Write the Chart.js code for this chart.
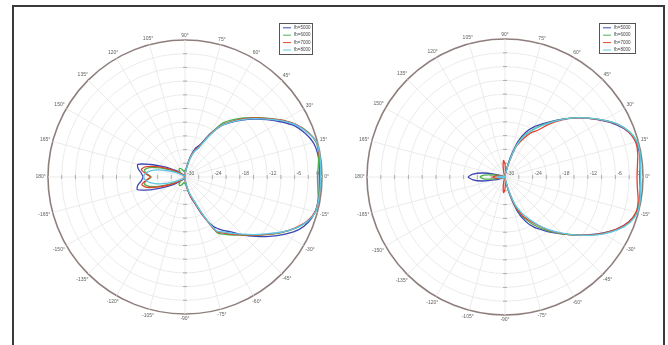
<!DOCTYPE html>
<html>
<head>
<meta charset="utf-8">
<title>Polar response</title>
<script src="https://cdn.jsdelivr.net/npm/chart.js@4.4.1/dist/chart.umd.min.js"></script>
<style>
  html, body { margin: 0; padding: 0; background: #fff; }
  #stage { position: relative; width: 668px; height: 345px; overflow: hidden; background: #fff; }
  .pane { position: absolute; top: 0; width: 334px; height: 345px; }
  #paneLeft { left: 0; }
  #paneRight { left: 334px; }
  #frame { position: absolute; left: 12px; top: 5px; width: 653px; height: 400px;
           border: 2px solid #3a3a3a; box-sizing: border-box; pointer-events: none; }
</style>
</head>
<body>
<div id="stage">
  <div class="pane" id="paneLeft"><canvas id="chartLeft"></canvas></div>
  <div class="pane" id="paneRight"><canvas id="chartRight"></canvas></div>
  <div id="frame"></div>
</div>
<script>
// Angles (degrees) in the order the radial scale walks them: clockwise from 0°.
const angleDeg = [0, -5, -10, -15, -20, -25, -30, -35, -40, -45, -50, -55, -60, -65, -70, -75, -80, -85,
  -90, -95, -100, -105, -110, -115, -120, -125, -130, -135, -140, -145, -150, -155, -160, -165, -170, -175,
  180, 175, 170, 165, 160, 155, 150, 145, 140, 135, 130, 125, 120, 115, 110, 105, 100, 95,
  90, 85, 80, 75, 70, 65, 60, 55, 50, 45, 40, 35, 30, 25, 20, 15, 10, 5];

const seriesNames = ['fb=5000', 'fb=6000', 'fb=7000', 'fb=8000'];
const seriesColors = ['#3d46b4', '#4cb24c', '#e2412f', '#5cc9e6'];

// Radial scale (dB) and its printed tick values
const dbMin = -30;
const dbMax = 0;
const dbStep = 3;
const radialTickValues = [-30, -24, -18, -12, -6, 0];

// Left pattern, level in dB per angle
const left5000 = [-0.6, -0.5, -0.4, -0.5, -1.2, -2.6, -4.9, -7.3, -9.8, -12.0, -14.3, -15.8, -17.5, -20.6, -24.0, -25.8, -27.6, -29.0,
  -29.6, -29.7, -29.8, -29.8, -29.8, -29.8, -29.7, -29.6, -29.4, -29.0, -28.4, -27.5, -26.2, -24.4, -21.8, -19.2, -19.5, -20.4,
  -20.8, -20.4, -19.6, -19.3, -22.0, -24.5, -26.3, -27.5, -28.4, -29.0, -29.4, -29.6, -29.7, -29.8, -29.8, -29.8, -29.8, -29.7,
  -29.6, -29.0, -27.6, -25.3, -23.3, -22.2, -19.2, -16.4, -14.4, -12.4, -10.3, -8.1, -5.8, -3.5, -2.0, -0.9, -0.5, -0.5];
const left6000 = [-1.0, -0.8, -0.4, -0.4, -1.5, -3.4, -5.6, -8.0, -10.1, -12.0, -13.4, -14.7, -15.9, -21.0, -24.6, -26.2, -28.0, -28.6,
  -28.5, -28.6, -28.8, -28.6, -28.3, -28.0, -27.8, -27.8, -28.0, -28.5, -28.8, -28.6, -27.8, -26.3, -24.2, -22.0, -21.0, -21.6,
  -22.6, -21.6, -21.0, -22.0, -24.2, -26.3, -27.8, -28.6, -28.8, -28.5, -28.0, -27.8, -27.8, -28.0, -28.3, -28.6, -28.8, -28.6,
  -28.5, -28.6, -27.8, -25.8, -24.0, -22.8, -19.5, -15.6, -13.6, -11.7, -9.8, -7.6, -5.2, -3.0, -1.3, -0.3, -0.3, -0.7];
const left7000 = [-0.4, -0.3, -0.3, -0.5, -1.6, -3.5, -5.7, -8.1, -10.2, -12.1, -13.6, -15.0, -16.2, -20.8, -24.3, -26.0, -27.8, -29.0,
  -29.4, -29.6, -29.8, -29.8, -29.8, -29.8, -29.8, -29.8, -29.8, -29.6, -29.1, -28.3, -27.1, -25.6, -23.5, -21.3, -20.4, -21.4,
  -22.4, -21.3, -20.3, -21.2, -23.4, -25.5, -27.0, -28.2, -29.0, -29.5, -29.8, -29.8, -29.8, -29.8, -29.8, -29.8, -29.8, -29.6,
  -29.3, -28.9, -27.7, -25.6, -23.8, -22.6, -19.6, -16.2, -14.1, -12.0, -9.9, -7.7, -5.2, -3.0, -1.4, -0.2, -0.2, -0.3];
const left8000 = [-0.3, -0.3, -0.3, -0.4, -1.5, -3.4, -5.8, -8.3, -10.4, -12.3, -13.9, -15.3, -16.5, -21.2, -24.8, -26.4, -28.2, -29.3,
  -29.7, -29.7, -29.7, -29.7, -29.7, -29.7, -29.7, -29.7, -29.7, -29.7, -29.7, -29.3, -28.7, -27.7, -26.1, -24.2, -22.5, -21.4,
  -20.9, -21.3, -22.3, -24.0, -26.0, -27.6, -28.6, -29.2, -29.6, -29.7, -29.7, -29.7, -29.7, -29.7, -29.7, -29.7, -29.7, -29.7,
  -29.7, -29.2, -28.0, -25.9, -24.1, -23.0, -19.9, -16.3, -14.3, -12.2, -10.1, -7.9, -5.4, -3.1, -1.5, -0.2, -0.1, -0.2];

// Right pattern, level in dB per angle
const right5000 = [-0.7, -0.5, -0.3, -0.4, -1.4, -3.2, -5.6, -8.1, -10.4, -12.5, -14.3, -16.0, -17.4, -19.3, -22.0, -26.0, -28.8, -29.5,
  -29.7, -29.8, -29.8, -29.8, -29.8, -29.8, -29.8, -29.8, -29.8, -29.8, -29.8, -29.8, -29.8, -29.8, -29.2, -27.5, -25.0, -23.0,
  -22.0, -23.0, -25.0, -27.5, -29.2, -29.8, -29.8, -29.8, -29.8, -29.8, -29.8, -29.8, -29.8, -29.8, -29.8, -29.8, -29.8, -29.8,
  -29.7, -29.5, -28.6, -25.8, -21.8, -19.2, -17.4, -15.9, -14.2, -12.2, -10.0, -7.8, -5.5, -3.2, -1.4, -0.5, -0.3, -0.5];
const right6000 = [-0.6, -0.4, -0.3, -0.3, -1.2, -3.0, -5.4, -7.9, -10.3, -12.5, -14.5, -16.4, -18.2, -20.2, -22.8, -26.8, -29.1, -29.6,
  -29.8, -29.8, -29.8, -29.8, -29.8, -29.8, -29.8, -29.8, -29.8, -29.8, -29.8, -29.8, -29.8, -29.8, -29.8, -29.1, -27.6, -25.4,
  -24.6, -25.4, -27.5, -29.0, -29.8, -29.8, -29.8, -29.8, -29.8, -29.8, -29.8, -29.8, -29.8, -29.8, -29.8, -29.8, -29.8, -29.8,
  -29.7, -29.6, -29.0, -26.6, -22.6, -20.0, -18.2, -16.3, -14.4, -12.2, -9.9, -7.7, -5.3, -2.9, -1.2, -0.3, -0.2, -0.5];
const right7000 = [-1.3, -1.1, -0.6, -0.5, -1.4, -3.2, -5.5, -8.0, -10.4, -12.7, -14.8, -17.0, -18.9, -20.6, -23.0, -26.8, -28.9, -28.8,
  -27.4, -26.6, -27.8, -29.0, -29.8, -29.8, -29.8, -29.8, -29.8, -29.8, -29.8, -29.8, -29.8, -29.8, -29.8, -29.5, -28.7, -27.8,
  -27.3, -27.8, -28.6, -29.5, -29.8, -29.8, -29.8, -29.8, -29.8, -29.8, -29.8, -29.8, -29.8, -29.8, -29.8, -29.0, -27.7, -26.4,
  -27.2, -28.7, -28.9, -26.8, -23.0, -21.0, -19.0, -17.6, -14.9, -12.4, -10.1, -7.8, -5.4, -3.0, -1.4, -0.6, -0.7, -1.1];
const right8000 = [-0.5, -0.4, -0.2, -0.2, -1.1, -2.9, -5.3, -7.9, -10.4, -12.8, -15.0, -17.2, -19.4, -21.4, -23.6, -27.2, -29.2, -29.6,
  -29.8, -29.8, -29.8, -29.8, -29.8, -29.8, -29.8, -29.8, -29.8, -29.8, -29.8, -29.8, -29.8, -29.8, -29.8, -29.8, -29.3, -28.6,
  -28.3, -28.6, -29.3, -29.8, -29.8, -29.8, -29.8, -29.8, -29.8, -29.8, -29.8, -29.8, -29.8, -29.8, -29.8, -29.8, -29.8, -29.8,
  -29.7, -29.6, -29.1, -26.8, -22.8, -20.2, -18.4, -16.5, -14.5, -12.3, -10.0, -7.7, -5.3, -2.9, -1.2, -0.3, -0.2, -0.4];

const FONT = '"Liberation Sans", Arial, sans-serif';

// Axis decorations: angle labels, dB labels, tick crosses on the main spokes, legend box
const polarDecor = {
  id: 'polarDecor',
  beforeDatasetsDraw(chart) {
    const r = chart.scales.r;
    const ctx = chart.ctx;
    const R = r.drawingArea;
    ctx.save();

    // small tick marks where each grid circle crosses the four main spokes
    ctx.strokeStyle = '#9c9c9c';
    ctx.lineWidth = 0.8;
    r.ticks.forEach(t => {
      const d = r.getDistanceFromCenterForValue(t.value);
      if (d <= 0 || t.value === dbMax) return;
      [0, 90, 180, -90].forEach(deg => {
        const idx = angleDeg.indexOf(deg);
        const p = r.getPointPosition(idx, d);
        ctx.beginPath();
        if (deg === 0 || deg === 180) {
          ctx.moveTo(p.x, p.y - 2); ctx.lineTo(p.x, p.y + 2);
        } else {
          ctx.moveTo(p.x - 2, p.y); ctx.lineTo(p.x + 2, p.y);
        }
        ctx.stroke();
      });
    });

    // angle labels every 15°
    ctx.font = '5px ' + FONT;
    ctx.fillStyle = '#606060';
    ctx.textAlign = 'center';
    ctx.textBaseline = 'middle';
    angleDeg.forEach((deg, i) => {
      if (deg % 15 !== 0) return;
      const text = deg + '\u00B0';
      const w = ctx.measureText(text).width;
      const a = deg * Math.PI / 180;
      const ext = 2.2 + Math.abs(Math.cos(a)) * w / 2 + Math.abs(Math.sin(a)) * 2.4;
      const p = r.getPointPosition(i, R + ext);
      ctx.fillText(text, p.x, p.y);
    });

    // dB labels along the 0° spoke
    radialTickValues.forEach(v => {
      const d = r.getDistanceFromCenterForValue(v);
      const p = r.getPointPosition(0, d);
      if (v === dbMax) {
        ctx.textAlign = 'right';
        ctx.fillText(String(v), p.x - 3, p.y - 3.5);
      } else {
        ctx.textAlign = 'left';
        ctx.fillText(String(v), p.x + 2, p.y - 3.5);
      }
    });
    ctx.restore();
  },
  afterDraw(chart, args, opts) {
    const box = opts.legendBox;
    if (!box) return;
    const ctx = chart.ctx;
    ctx.save();
    ctx.fillStyle = '#ffffff';
    ctx.fillRect(box.x, box.y, box.w, box.h);
    ctx.strokeStyle = '#555555';
    ctx.lineWidth = 1;
    ctx.strokeRect(box.x + 0.5, box.y + 0.5, box.w - 1, box.h - 1);
    ctx.font = '4.5px ' + FONT;
    ctx.textAlign = 'left';
    ctx.textBaseline = 'middle';
    chart.data.datasets.forEach((ds, k) => {
      const y = box.y + 4.8 + k * 7.4;
      ctx.strokeStyle = ds.borderColor;
      ctx.lineWidth = 1;
      ctx.beginPath();
      ctx.moveTo(box.x + 4, y);
      ctx.lineTo(box.x + 12, y);
      ctx.stroke();
      ctx.fillStyle = '#444444';
      ctx.fillText(ds.label, box.x + 15, y);
    });
    ctx.restore();
  }
};

function makePolar(canvasId, seriesList, pad, legendBox) {
  return new Chart(document.getElementById(canvasId), {
    type: 'radar',
    data: {
      labels: angleDeg,
      datasets: seriesList.map((vals, k) => ({
        label: seriesNames[k],
        data: vals,
        borderColor: seriesColors[k],
        backgroundColor: seriesColors[k],
        borderWidth: 1.3,
        pointRadius: 0,
        pointHoverRadius: 0,
        fill: false,
        tension: 0.25,
        order: seriesList.length - 1 - k
      }))
    },
    options: {
      responsive: true,
      maintainAspectRatio: false,
      animation: false,
      devicePixelRatio: 1,
      layout: { padding: pad },
      plugins: {
        legend: { display: false },
        tooltip: { enabled: false },
        polarDecor: { legendBox: legendBox }
      },
      scales: {
        r: {
          min: dbMin,
          max: dbMax,
          startAngle: 90,
          ticks: { display: false, stepSize: dbStep },
          pointLabels: { display: false },
          grid: {
            circular: true,
            color: c => c.tick.value === dbMin ? 'rgba(0,0,0,0)' : (c.tick.value === dbMax ? '#8e7f7c' : '#e6e6e6'),
            lineWidth: c => c.tick.value === dbMax ? 1.6 : 0.8
          },
          angleLines: {
            color: '#e6e6e6',
            lineWidth: c => (angleDeg[c.index] % 15 === 0 ? 0.8 : 0)
          }
        }
      }
    },
    plugins: [polarDecor]
  });
}

makePolar('chartLeft', [left5000, left6000, left7000, left8000],
  { left: 48, right: 12, top: 40, bottom: 31 },
  { x: 279, y: 23, w: 34, h: 32 });
makePolar('chartRight', [right5000, right6000, right7000, right8000],
  { left: 33, right: 25, top: 39, bottom: 30 },
  { x: 265, y: 23, w: 37, h: 31 });
</script>
</body>
</html>
